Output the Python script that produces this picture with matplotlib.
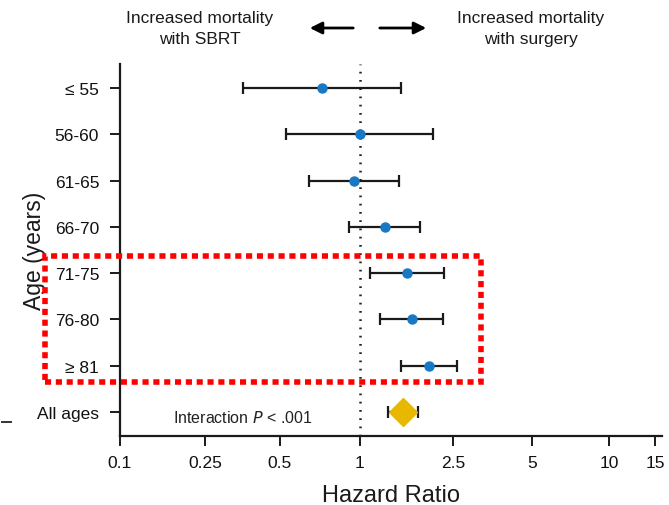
import numpy as np
import matplotlib
matplotlib.use("Agg")
import matplotlib.pyplot as plt
from matplotlib.patches import Rectangle, FancyArrowPatch

plt.rcParams['font.family'] = ['Liberation Sans Narrow', 'Liberation Sans', 'DejaVu Sans']

# Subgroups and hazard ratios (95% CI)
groups = ["\u2264 55", "56-60", "61-65", "66-70", "71-75", "76-80", "\u2265 81"]
hr = [0.72, 1.00, 0.95, 1.28, 1.59, 1.67, 1.97]
ci_low = [0.355, 0.527, 0.643, 0.91, 1.10, 1.22, 1.50]
ci_high = [1.50, 2.05, 1.47, 1.81, 2.29, 2.27, 2.59]

overall_label = "All ages"
overall_hr = 1.53
overall_low = 1.32
overall_high = 1.77

tick_values = [0.1, 0.25, 0.5, 1, 2.5, 5, 10, 15]
tick_labels = ["0.1", "0.25", "0.5", "1", "2.5", "5", "10", "15"]

# Hazard-ratio axis: log-like spacing with the tick spacing of the printed figure
_L = np.log10(tick_values)
_P = np.array([0, 85, 160, 240, 333, 412, 489, 535], dtype=float)
_L = np.concatenate([[_L[0] - 1], _L, [_L[-1] + 1]])
_P = np.concatenate([[_P[0] - 240], _P,
                     [_P[-1] + (_P[-1] - _P[-2]) / (np.log10(15) - 1)]])


def fwd(x):
    x = np.clip(np.asarray(x, dtype=float), 1e-6, None)
    return np.interp(np.log10(x), _L, _P)


def inv(p):
    return 10 ** np.interp(np.asarray(p, dtype=float), _P, _L)


W, H = 669, 506
fig = plt.figure(figsize=(W / 100, H / 100), dpi=100)
ax = fig.add_axes([120 / W, 1 - 437 / H, (662 - 120) / W, (437 - 65) / H])
ax.set_xscale('function', functions=(fwd, inv))

ypos = np.arange(len(groups))
blue = "#1878c4"
gold = "#e8b800"

ax.axvline(1, color="#222222", lw=1.8, ls=(0, (0.7, 2.6)), zorder=1)

err = [np.array(hr) - np.array(ci_low), np.array(ci_high) - np.array(hr)]
ax.errorbar(hr, ypos, xerr=err, fmt="o", color=blue, ms=6.5,
            ecolor="#1a1a1a", elinewidth=1.6, capsize=4.5, capthick=1.6, zorder=3)

oy = len(groups)
ax.errorbar([overall_hr], [oy],
            xerr=[[overall_hr - overall_low], [overall_high - overall_hr]],
            fmt="none", ecolor="#1a1a1a", elinewidth=1.6, capsize=4.5, capthick=1.6, zorder=2)
ax.plot([overall_hr], [oy], marker="D", color=gold, ms=14, mec=gold, zorder=3, ls="none")

ax.text(float(inv(53)), oy + 0.12, "Interaction $P$ < .001", fontsize=11.5, color="#222222",
        va="center", ha="left")

ax.set_xlim(0.1, float(inv(542)))
ax.set_ylim(7.52, -0.52)
ax.set_yticks(list(ypos) + [oy])
ax.set_yticklabels(groups + [overall_label])
ax.set_xticks(tick_values)
ax.set_xticklabels(tick_labels)
ax.xaxis.set_minor_locator(matplotlib.ticker.NullLocator())

for s in ["top", "right"]:
    ax.spines[s].set_visible(False)
for s in ["left", "bottom"]:
    ax.spines[s].set_linewidth(1.6)
    ax.spines[s].set_color("#1a1a1a")
ax.tick_params(axis="both", length=7, width=1.4, color="#1a1a1a",
               labelsize=12.5, labelcolor="#111111")
ax.tick_params(axis="y", pad=8)
ax.tick_params(axis="x", pad=7)

ax.set_xlabel("Hazard Ratio", fontsize=17, color="#1a1a1a", labelpad=10)
ax.set_ylabel("Age (years)", fontsize=16.5, color="#1a1a1a")
ax.yaxis.set_label_coords(-0.137, 0.5)

# Direction header
fig.text(200 / W, 1 - 29 / H, "Increased mortality\nwith SBRT", ha="center", va="center",
         fontsize=12.5, color="#1a1a1a", linespacing=1.5)
fig.text(531 / W, 1 - 29 / H, "Increased mortality\nwith surgery", ha="center", va="center",
         fontsize=12.5, color="#1a1a1a", linespacing=1.5)
for x0, x1 in [(356, 307), (377, 429)]:
    fig.patches.append(FancyArrowPatch((x0 / W, 1 - 29 / H), (x1 / W, 1 - 29 / H),
                                       transform=fig.transFigure, arrowstyle="-|>",
                                       mutation_scale=18, lw=2, color="black"))

# Highlight box around the oldest groups
fig.patches.append(Rectangle((45 / W, 1 - 383 / H), (481 - 45) / W, (383 - 257) / H,
                             transform=fig.transFigure, fill=False, ec="#ff0000",
                             lw=4.0, ls=(0, (1.1, 0.85)), zorder=5))

# small stray mark at the left margin
fig.add_artist(plt.Line2D([2 / W, 11 / W], [1 - 423 / H, 1 - 423 / H],
                          transform=fig.transFigure, color="#333333", lw=1.4))

fig.savefig("out.png", dpi=100)
